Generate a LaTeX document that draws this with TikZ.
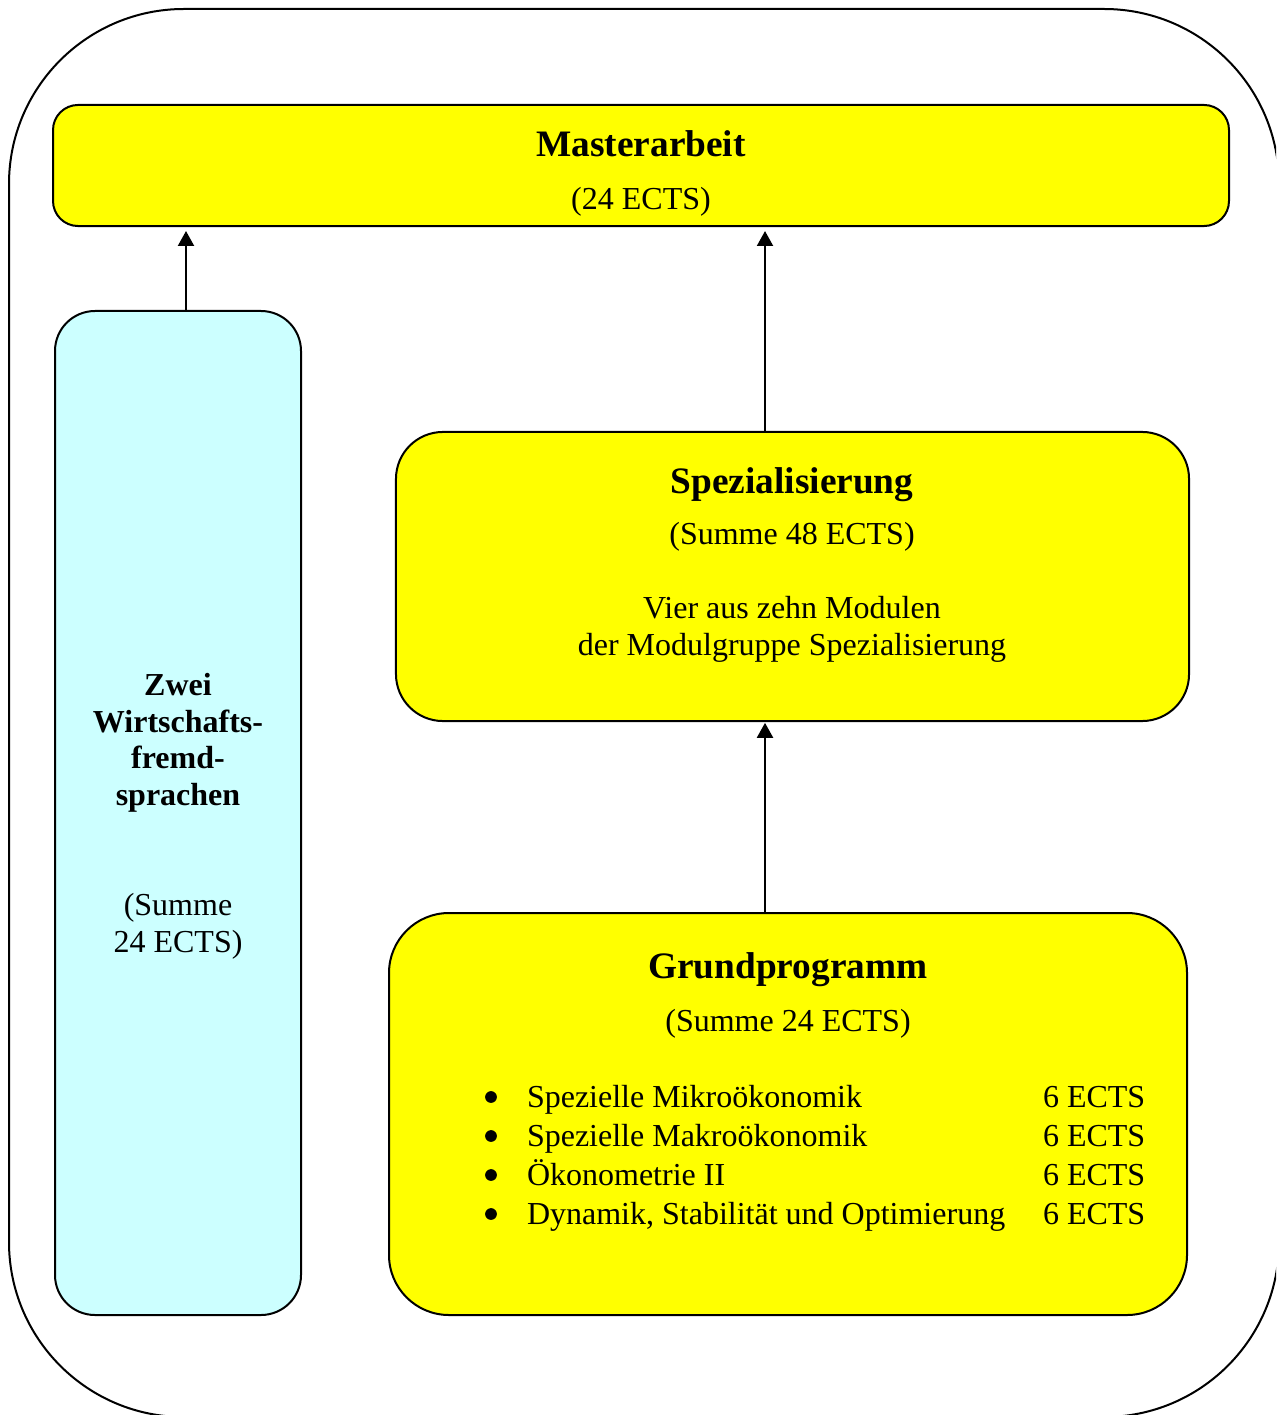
\documentclass[tikz,border=0pt]{standalone}
\usepackage{fontspec}
\setmainfont{Liberation Serif}
\usetikzlibrary{arrows.meta}
\definecolor{boxyellow}{RGB}{255,255,0}
\definecolor{boxcyan}{RGB}{204,255,255}
\begin{document}
\begin{tikzpicture}[x=0.375pt,y=-0.375pt, line width=0.75pt,
  box/.style={draw=black, rectangle, inner sep=0pt, line width=0.75pt},
  txt/.style={anchor=base, inner sep=0pt, font=\fontsize{12}{14.6}\selectfont},
  txtl/.style={anchor=base west, inner sep=0pt, font=\fontsize{12}{14.6}\selectfont},
  bul/.style={circle, fill=black, inner sep=0pt, minimum size=4.4pt},
  ttl/.style={anchor=base, inner sep=0pt, font=\fontsize{14}{17}\selectfont\bfseries},
  btxt/.style={anchor=base, inner sep=0pt, font=\fontsize{12}{14.6}\selectfont\bfseries},
  arr/.style={-{Triangle[length=5.6pt,width=6pt]}, line width=0.75pt}]
\useasboundingbox (0,0) rectangle (1276,1415);
\clip (0,0) rectangle (1276,1415);
% outer frame
\draw[rounded corners=65.6pt] (9,9) rectangle (1279,1417);

% boxes
\node[box, fill=boxyellow, rounded corners=9.4pt, minimum width=441pt, minimum height=45.4pt] (master) at (641,165.5) {};
\node[box, fill=boxcyan, rounded corners=15pt, minimum width=92.25pt, minimum height=376.5pt] (fremd) at (178,813) {};
\node[box, fill=boxyellow, rounded corners=17.6pt, minimum width=297.4pt, minimum height=108.4pt] (spez) at (792.5,576.5) {};
\node[box, fill=boxyellow, rounded corners=22.5pt, minimum width=299.25pt, minimum height=150.75pt] (grund) at (788,1114) {};

% connectors
\coordinate (ax) at (765,0);
\coordinate (bx) at (186,0);
\draw[arr, shorten >=1.5pt] (bx |- fremd.north) -- (bx |- master.south);
\draw[arr, shorten >=1.5pt] (ax |- spez.north) -- (ax |- master.south);
\draw[arr, shorten >=0.3pt] (ax |- grund.north) -- (ax |- spez.south);

% Masterarbeit text
\node[ttl] (t1) at (641,157) {Masterarbeit};
\node[txt] (t2) at (641,210) {(24 ECTS)};

% Fremdsprachen text
\node[btxt] (f1) at (178,695) {Zwei};
\node[btxt] (f2) at (178,732) {Wirtschafts-};
\node[btxt] (f3) at (178,768) {fremd-};
\node[btxt] (f4) at (178,805) {sprachen};
\node[txt] (f5) at (178,915) {(Summe};
\node[txt] (f6) at (178,952) {24 ECTS)};

% Spezialisierung text
\node[ttl] (s1) at (792,493) {Spezialisierung};
\node[txt] (s2) at (792,544) {(Summe 48 ECTS)};
\node[txt] (s3) at (792,618) {Vier aus zehn Modulen};
\node[txt] (s4) at (792,655) {der Modulgruppe Spezialisierung};

% Grundprogramm text
\node[ttl] (g1) at (788,978) {Grundprogramm};
\node[txt] (g2) at (788,1031) {(Summe 24 ECTS)};
\foreach \y/\name [count=\i] in {1107/Spezielle Mikroökonomik,1146/Spezielle Makroökonomik,1185/Ökonometrie II,1224/{Dynamik, Stabilität und Optimierung}}{
  \node[bul] (gb\i) at (491,\y-10) {};
  \node[txtl] (gi\i) at (526,\y) {\name};
  \node[txtl] (ge\i) at (1042,\y) {6 ECTS};
}
\end{tikzpicture}
\end{document}
